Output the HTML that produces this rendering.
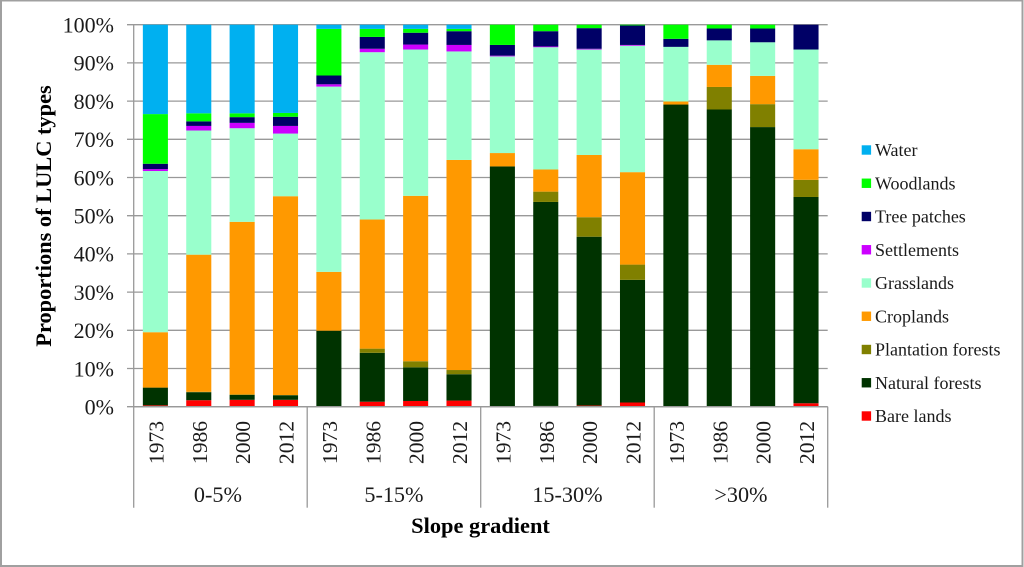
<!DOCTYPE html>
<html>
<head>
<meta charset="utf-8">
<title>Proportions of LULC types by slope gradient</title>
<style>
html,body{margin:0;padding:0;background:#fff;}
svg{display:block;font-family:"Liberation Serif",serif;}
</style>
</head>
<body>
<svg id="chart" xmlns="http://www.w3.org/2000/svg" width="1024" height="567" viewBox="0 0 1024 567"></svg>
<script>
const slopeGroups = ['0-5%', '5-15%', '15-30%', '>30%'];
const years = ['1973', '1986', '2000', '2012'];
const yTicks = [0, 10, 20, 30, 40, 50, 60, 70, 80, 90, 100];
const bareLands = [0.35, 1.7, 1.8, 1.8, 0, 1.3, 1.5, 1.6, 0, 0.2, 0.3, 1.1, 0, 0, 0, 0.9];
const naturalForests = [4.65, 2.1, 1.3, 1.2, 19.9, 12.8, 8.8, 6.9, 62.9, 53.4, 44.2, 32.1, 79.1, 77.8, 73.2, 54];
const plantationForests = [0, 0.1, 0.1, 0.05, 0, 1.1, 1.6, 1.1, 0, 2.7, 5.1, 4, 0, 5.9, 6, 4.5];
const croplands = [14.5, 35.9, 45.2, 52.05, 15.4, 33.8, 43.3, 55, 3.5, 5.8, 16.3, 24.2, 0.8, 5.8, 7.4, 8];
const grasslands = [42.2, 32.5, 24.5, 16.4, 48.5, 43.8, 38.3, 28.4, 25.3, 32, 27.6, 33.1, 14.3, 6.4, 8.8, 26.1];
const settlements = [0.5, 1.2, 1.4, 2, 0.6, 0.9, 1.3, 1.7, 0.2, 0.2, 0.2, 0.2, 0, 0, 0, 0];
const treePatches = [1.4, 1.2, 1.5, 2.4, 2.3, 3.1, 3.1, 3.6, 2.8, 4, 5.4, 5.1, 2.1, 3.1, 3.6, 6.5];
const woodlands = [13, 2.1, 1, 1, 12.2, 2.1, 1, 0.6, 5.3, 1.7, 0.9, 0.2, 3.7, 1, 1, 0];
const water = [23.4, 23.2, 23.2, 23.1, 1.1, 1.1, 1.1, 1.1, 0, 0, 0, 0, 0, 0, 0, 0];
const seriesNames = ['Bare lands', 'Natural forests', 'Plantation forests', 'Croplands', 'Grasslands', 'Settlements', 'Tree patches', 'Woodlands', 'Water'];
const seriesValues = [bareLands, naturalForests, plantationForests, croplands, grasslands, settlements, treePatches, woodlands, water];
const seriesColors = ['#ff0000', '#003300', '#808000', '#ff9900', '#99ffcc', '#cc00ff', '#000066', '#00ff00', '#00b0f0'];

const svg = document.getElementById('chart');
const NS = 'http://www.w3.org/2000/svg';
const plot = { left: 133.7, right: 827.7, top: 24.7, bottom: 406.7 };
const barCount = slopeGroups.length * years.length;
const slot = (plot.right - plot.left) / barCount;
const barWidth = slot * 0.578;
const axisColor = '#999999';

function y(v) { return plot.bottom - (v / 100) * (plot.bottom - plot.top); }
function x(i) { return plot.left + slot * (i + 0.5); }
function make(tag, attrs, text) {
  const el = document.createElementNS(NS, tag);
  for (const k in attrs) el.setAttribute(k, attrs[k]);
  if (text !== undefined) el.textContent = text;
  svg.appendChild(el);
  return el;
}

// page background and border
const frame = make('rect', { x: 1, y: 0.5, width: 1021.5, height: 565.5, fill: '#ffffff', stroke: '#a0a0a0', 'stroke-width': 2 });



// gridlines and y ticks
yTicks.forEach(function (t) {
  const grid = make('line', { x1: 127, x2: plot.right, y1: y(t), y2: y(t), stroke: axisColor, 'stroke-width': 1.3 });
  
  
  const label = make('text', { x: 114, y: y(t) + 7.8, 'text-anchor': 'end', 'font-size': 22, fill: '#1a1a1a' }, t + '%');
  
  
});

// y axis
const yAxis = make('line', { x1: plot.left, x2: plot.left, y1: plot.top, y2: 507.7, stroke: axisColor, 'stroke-width': 1.3 });



// stacked bars
for (let i = 0; i < barCount; i++) {
  let base = 0;
  seriesValues.forEach(function (values, s) {
    const v = values[i];
    if (v > 0) {
      const seg = make('rect', { x: x(i) - barWidth / 2, y: y(base + v), width: barWidth, height: y(base) - y(base + v), fill: seriesColors[s] });
      
      
    }
    base += v;
  });
}

// x axis, year labels, group separators
const xAxis = make('line', { x1: plot.left, x2: plot.right, y1: plot.bottom, y2: plot.bottom, stroke: axisColor, 'stroke-width': 1.3 });



const groupLabelNudge = [-2.5, 0, 0, 0];
for (let g = 0; g < slopeGroups.length; g++) {
  const sepX = plot.left + slot * years.length * (g + 1);
  const sep = make('line', { x1: sepX, x2: sepX, y1: plot.bottom, y2: 507.7, stroke: axisColor, 'stroke-width': 1.3 });
  
  
  const gx = plot.left + slot * years.length * (g + 0.5) + groupLabelNudge[g];
  const gl = make('text', { x: gx, y: 502, 'text-anchor': 'middle', 'font-size': 22.2, fill: '#1a1a1a' }, slopeGroups[g]);
  
  
  years.forEach(function (yr, k) {
    const i = g * years.length + k;
    const tx = x(i) + 8;
    const yl = make('text', { x: tx, y: 442.5, 'text-anchor': 'middle', 'font-size': 21.6, fill: '#1a1a1a', transform: 'rotate(-90 ' + tx + ' 442.5)' }, yr);
    
    
  });
}

// axis titles
const xTitle = make('text', { x: 480.5, y: 533, 'text-anchor': 'middle', 'font-size': 22.4, 'font-weight': 'bold', fill: '#000000' }, 'Slope gradient');


const yTitle = make('text', { x: 51, y: 216, 'text-anchor': 'middle', 'font-size': 22.4, 'font-weight': 'bold', fill: '#000000', transform: 'rotate(-90 51 216)' }, 'Proportions of LULC types');



// legend (top-down: reverse of stacking order)
for (let s = seriesNames.length - 1; s >= 0; s--) {
  const row = seriesNames.length - 1 - s;
  const cy = 150 + row * 33.25;
  const sw = make('rect', { x: 861.7, y: cy - 4.7, width: 9.4, height: 9.4, fill: seriesColors[s] });
  
  
  const lt = make('text', { x: 875, y: cy + 6, 'font-size': 18, fill: '#1a1a1a' }, seriesNames[s]);
  
  
}
</script>
</body>
</html>
